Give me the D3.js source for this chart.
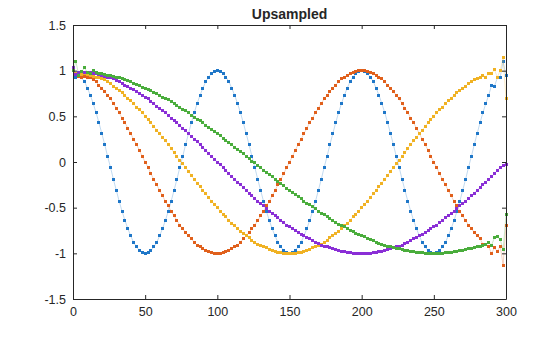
<!DOCTYPE html>
<html><head><meta charset="utf-8">
<script src="https://cdn.jsdelivr.net/npm/d3@7"></script>
<style>
body{margin:0;background:#fff}
svg{display:block}
text{font-family:Arial,"Liberation Sans",Helvetica,sans-serif;fill:#262626}
</style>
</head><body>
<svg id="chart" width="560" height="337"></svg>
<script>
const titleText = "Upsampled";
const sampleTimes = d3.range(0, 301, 2);
const xTicks = [0, 50, 100, 150, 200, 250, 300];
const yTicks = [-1.5, -1, -0.5, 0, 0.5, 1, 1.5];
const yTickLabels = ["-1.5", "-1", "-0.5", "0", "0.5", "1", "1.5"];

const blue = [
1.02,.93,.96,.92,.88,.81,.73,.64,.54,.43,.31,.19,.06,-.06,-.19,-.31,-.43,-.54,-.64,-.73,-.81,-.88,-.93,-.97,-.99,
-1,-.99,-.97,-.93,-.88,-.81,-.73,-.64,-.54,-.43,-.31,-.19,-.06,.06,.19,.31,.43,.54,.64,.73,.81,.88,.93,.97,.99,
1,.99,.97,.93,.88,.81,.73,.64,.54,.43,.31,.19,.06,-.06,-.19,-.31,-.43,-.54,-.64,-.73,-.81,-.88,-.93,-.97,-.99,
-1,-.99,-.97,-.93,-.88,-.81,-.73,-.64,-.54,-.43,-.31,-.19,-.06,.06,.19,.31,.43,.54,.64,.73,.81,.88,.93,.97,.99,
1,.99,.97,.93,.88,.81,.73,.64,.54,.43,.31,.19,.06,-.06,-.19,-.31,-.43,-.54,-.64,-.73,-.81,-.88,-.93,-.97,-.99,
-1,-.99,-.97,-.93,-.88,-.81,-.73,-.64,-.54,-.43,-.31,-.19,-.06,.06,.19,.31,.43,.54,.64,.73,.84,.83,.92,.93,1.10,
.95];

const orange = [
1.03,.96,.94,.93,.94,.93,.92,.90,.88,.84,.81,.77,.73,.69,.64,.59,.54,.48,.43,.37,.31,.25,.19,.13,.06,
0,-.06,-.13,-.19,-.25,-.31,-.37,-.43,-.48,-.54,-.59,-.64,-.69,-.73,-.77,-.81,-.84,-.88,-.91,-.93,-.95,-.97,-.98,-.99,-1,-1,
-1,-.99,-.98,-.97,-.95,-.93,-.91,-.88,-.84,-.81,-.77,-.73,-.69,-.64,-.59,-.54,-.48,-.43,-.37,-.31,-.25,-.19,-.13,-.06,0,
.06,.13,.19,.25,.31,.37,.43,.48,.54,.59,.64,.69,.73,.77,.81,.84,.88,.91,.93,.95,.97,.98,.99,1,1,
1,.99,.98,.97,.95,.93,.91,.88,.84,.81,.77,.73,.69,.64,.59,.54,.48,.43,.37,.31,.25,.19,.13,.06,0,
-.06,-.13,-.19,-.25,-.31,-.37,-.43,-.48,-.54,-.59,-.64,-.69,-.73,-.77,-.81,-.84,-.90,-.90,-.93,-1.0,-.94,-.98,-.92,-1.13,-.69];

const yellow = [
1.02,.97,.96,.96,.97,.96,.95,.94,.93,.92,.91,.90,.88,.86,.83,.81,.78,.76,.73,.70,.67,.64,.60,.57,.54,.50,.46,.43,.39,.35,.31,.27,.23,.19,.15,.10,.06,.02,
-.02,-.06,-.10,-.15,-.19,-.23,-.27,-.31,-.35,-.39,-.43,-.46,-.50,-.54,-.57,-.60,-.64,-.67,-.70,-.73,-.76,-.78,-.81,-.83,-.86,-.88,-.90,-.91,-.93,-.94,-.96,-.97,-.98,-.99,-.99,-1,-1,-1,
-1,-1,-.99,-.99,-.98,-.97,-.96,-.94,-.93,-.91,-.90,-.88,-.86,-.83,-.81,-.78,-.76,-.73,-.70,-.67,-.64,-.60,-.57,-.54,-.50,-.46,-.43,-.39,-.35,-.31,-.27,-.23,-.19,-.15,-.10,-.06,-.02,
.02,.06,.10,.15,.19,.23,.27,.31,.35,.39,.43,.46,.50,.54,.57,.60,.64,.67,.70,.73,.76,.78,.81,.83,.86,.88,.90,.91,.93,.95,.93,.97,.97,1.01,.93,1.0,1.14,.69];

const purple = [
1.03,.96,.98,.99,.98,.98,.98,.97,.97,.96,.95,.94,.93,.92,.91,.89,.88,.86,.84,.83,.81,.79,.77,.75,.73,.71,.69,.66,.64,.61,.59,.56,.54,.51,.48,.45,.43,.40,.37,.34,.31,.28,.25,.22,.19,.16,.13,.09,.06,.03,0,
-.03,-.06,-.09,-.13,-.16,-.19,-.22,-.25,-.28,-.31,-.34,-.37,-.40,-.43,-.45,-.48,-.51,-.54,-.56,-.59,-.61,-.64,-.66,-.69,-.71,-.73,-.75,-.77,-.79,-.81,-.83,-.84,-.86,-.88,-.89,-.91,-.92,-.93,-.94,-.95,-.96,-.97,-.98,-.98,-.99,-.99,-1,-1,-1,-1,
-1,-1,-1,-.99,-.99,-.98,-.98,-.97,-.96,-.95,-.94,-.93,-.92,-.91,-.89,-.88,-.86,-.84,-.83,-.81,-.79,-.77,-.75,-.73,-.71,-.69,-.66,-.64,-.61,-.59,-.56,-.54,-.51,-.48,-.45,-.43,-.40,-.37,-.34,-.31,-.28,-.25,-.22,-.19,-.16,-.13,-.09,-.06,-.04,-.03];

const green = [
1.0,1.10,.95,.99,1.03,.98,.97,1.0,.98,.97,.97,.96,.95,.95,.94,.93,.92,.91,.90,.89,.88,.86,.85,.84,.82,.81,.79,.78,.76,.75,.73,.71,.69,.68,.66,.64,.62,.60,.58,.56,.54,.51,.49,.47,.45,.43,.40,.38,.36,.33,.31,.29,.26,.24,.21,.19,.16,.14,.11,.09,.06,.04,.01,
-.01,-.04,-.06,-.09,-.11,-.14,-.16,-.19,-.21,-.24,-.26,-.29,-.31,-.33,-.36,-.38,-.40,-.43,-.45,-.47,-.49,-.51,-.54,-.56,-.58,-.60,-.62,-.64,-.66,-.68,-.69,-.71,-.73,-.75,-.76,-.78,-.79,-.81,-.82,-.84,-.85,-.86,-.88,-.89,-.90,-.91,-.92,-.93,-.94,-.95,-.95,-.96,-.97,-.97,-.98,-.98,-.99,-.99,-.99,-1,-1,-1,-1,
-1,-1,-1,-.99,-.99,-.99,-.98,-.98,-.97,-.97,-.96,-.95,-.95,-.94,-.93,-.92,-.91,-.90,-.88,-.91,-.83,-.82,-.85,-.96,-.58];

const seriesValues = [blue, orange, yellow, purple, green];
const seriesColors = ["#1f77c8", "#e0601c", "#f0b224", "#8a2fd6", "#4aad3c"];

const W = 560, H = 337;
const m = {l: 73, t: 25, r: 54, b: 38};
const svg = d3.select("#chart");
const x = d3.scaleLinear().domain([0, 300]).range([m.l, W - m.r]);
const y = d3.scaleLinear().domain([-1.5, 1.5]).range([H - m.b, m.t]);

const line = d3.line().x((d, i) => x(sampleTimes[i])).y(d => y(d));

seriesValues.forEach((vals, si) => {
  const g = svg.append("g");
  g.append("path").datum(vals)
    .attr("d", line)
    .attr("fill", "none")
    .attr("stroke", seriesColors[si])
    .attr("stroke-opacity", 0.55)
    .attr("stroke-width", 0.5);
  g.selectAll("rect").data(vals).join("rect")
    .attr("x", (d, i) => x(sampleTimes[i]) - 1.5)
    .attr("y", d => y(d) - 1.5)
    .attr("width", 3).attr("height", 3)
    .attr("shape-rendering", "crispEdges")
    .attr("fill", seriesColors[si]);
});

function styleAxis(g) {
  g.selectAll(".domain").attr("stroke", "#262626");
  g.selectAll(".tick line").attr("stroke", "#262626");
  g.selectAll("text").attr("font-size", 12.5).attr("fill", "#262626")
    .attr("font-family", "Arial, 'Liberation Sans', Helvetica, sans-serif");
}

svg.append("g").attr("transform", `translate(0,${H - m.b})`)
  .call(d3.axisBottom(x).tickValues(xTicks).tickSizeInner(-4).tickSizeOuter(0).tickPadding(8))
  .call(styleAxis);
svg.append("g").attr("transform", `translate(0,${m.t})`)
  .call(d3.axisTop(x).tickValues(xTicks).tickSizeInner(-4).tickSizeOuter(0).tickFormat(""))
  .call(styleAxis);
svg.append("g").attr("transform", `translate(${m.l},0)`)
  .call(d3.axisLeft(y).tickValues(yTicks).tickSizeInner(-4).tickSizeOuter(0).tickPadding(7)
    .tickFormat((d, i) => yTickLabels[i]))
  .call(styleAxis);
svg.append("g").attr("transform", `translate(${W - m.r},0)`)
  .call(d3.axisRight(y).tickValues(yTicks).tickSizeInner(-4).tickSizeOuter(0).tickFormat(""))
  .call(styleAxis);

svg.append("text")
  .attr("x", (m.l + W - m.r) / 2).attr("y", 19)
  .attr("text-anchor", "middle")
  .attr("font-weight", "bold").attr("font-size", 14)
  .text(titleText);
</script>
</body></html>
